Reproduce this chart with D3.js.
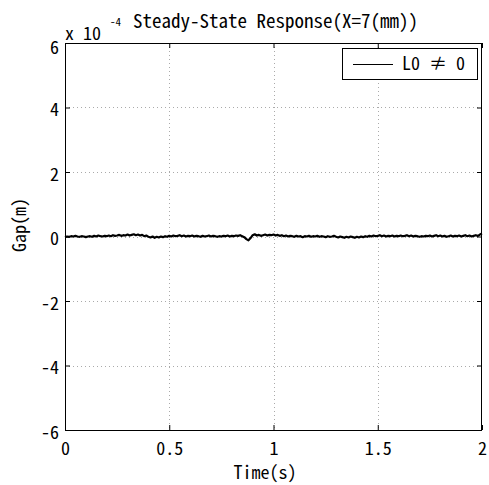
<!DOCTYPE html>
<html>
<head>
<meta charset="utf-8">
<script src="https://cdn.jsdelivr.net/npm/d3@7"></script>
<style>
  body { margin: 0; background: #fff; }
  svg text { font-family: "Noto Sans Mono CJK JP", "DejaVu Sans Mono", monospace; fill: #000; }
</style>
</head>
<body>
<div class="container"></div>
<script>
const w = 489;
const h = 485;
const margin = { top: 43, bottom: 55, left: 65, right: 7 };
const width = w - margin.left - margin.right;
const height = h - margin.top - margin.bottom;

// gap in units of 1e-4 m, one sample every 0.01 s from t = 0 to 2 s
const dt = 0.01;
const gap = [
  -0.02, 0.00, -0.01, 0.01, 0.00, 0.02, 0.00, -0.01, 0.01, 0.00,
  -0.02, 0.00, 0.01, -0.01, 0.02, 0.00, 0.03, 0.01, 0.00, 0.02,
  0.01, 0.03, 0.01, 0.04, 0.02, 0.03, 0.05, 0.02, 0.04, 0.03,
  0.06, 0.03, 0.05, 0.07, 0.04, 0.06, 0.03, 0.05, 0.01, 0.03,
  -0.01, -0.03, 0.00, -0.04, -0.01, -0.03, 0.00, -0.02, 0.01, -0.01,
  0.02, 0.00, 0.03, 0.01, 0.02, 0.04, 0.01, 0.03, 0.00, 0.02,
  0.01, 0.03, 0.00, 0.02, 0.01, -0.01, 0.02, 0.00, 0.01, 0.03,
  0.00, 0.02, 0.01, -0.01, 0.01, 0.00, 0.02, 0.01, 0.03, 0.00,
  0.02, 0.01, 0.03, 0.02, 0.04, 0.01, -0.02, -0.08, -0.12, -0.05,
  0.04, 0.07, 0.03, 0.05, 0.02, 0.04, 0.06, 0.03, 0.05, 0.04,
  0.06, 0.03, 0.05, 0.02, 0.04, 0.01, 0.03, 0.00, 0.02, 0.01,
  -0.01, 0.02, 0.00, 0.01, -0.02, 0.01, 0.00, 0.02, -0.01, 0.01,
  0.00, 0.02, -0.01, 0.01, 0.00, -0.02, 0.01, -0.01, 0.00, 0.02,
  -0.01, -0.03, 0.00, -0.02, -0.04, -0.01, -0.03, 0.00, -0.02, -0.04,
  -0.01, -0.03, 0.00, -0.02, 0.01, -0.01, 0.02, 0.00, 0.03, 0.01,
  0.02, 0.04, 0.01, 0.03, 0.00, 0.02, 0.01, 0.03, 0.00, 0.02,
  0.01, 0.03, 0.01, 0.02, 0.04, 0.01, 0.03, 0.00, 0.02, 0.01,
  -0.01, 0.01, 0.00, 0.02, 0.01, 0.03, 0.00, 0.02, 0.04, 0.01,
  0.03, 0.00, 0.02, -0.01, 0.01, 0.03, 0.00, 0.02, 0.01, 0.03,
  0.00, 0.02, 0.04, 0.01, 0.03, 0.00, 0.02, 0.04, 0.02, 0.06,
  0.09
];

const xTicks = [0, 0.5, 1, 1.5, 2];
const xTickLabels = ['0', '0.5', '1', '1.5', '2'];
const yTicks = [-6, -4, -2, 0, 2, 4, 6];
const yTickLabels = ['-6', '-4', '-2', '0', '2', '4', '6'];

const titleText = 'Steady-State Response(X=7(mm))';
const xLabel = 'Time(s)';
const yLabel = 'Gap(m)';
const legendLabel = 'L0 \u2260 0';

const svg = d3.select('.container').append('svg')
  .attr('width', w)
  .attr('height', h);

const chart = svg.append('g')
  .attr('transform', `translate(${margin.left}, ${margin.top})`);

const x = d3.scaleLinear().domain([0, 2]).range([0, width]);
const y = d3.scaleLinear().domain([-6, 6]).range([height, 0]);

// dotted grid
chart.append('g')
  .selectAll('line')
  .data(xTicks.slice(1, -1))
  .enter().append('line')
    .attr('x1', d => Math.round(x(d)) + 0.5)
    .attr('x2', d => Math.round(x(d)) + 0.5)
    .attr('y1', 0)
    .attr('y2', height)
    .attr('stroke', '#aaa')
    .attr('stroke-dasharray', '1,3');

chart.append('g')
  .selectAll('line')
  .data(yTicks.slice(1, -1))
  .enter().append('line')
    .attr('y1', d => Math.round(y(d)) + 0.5)
    .attr('y2', d => Math.round(y(d)) + 0.5)
    .attr('x1', 0)
    .attr('x2', width)
    .attr('stroke', '#aaa')
    .attr('stroke-dasharray', '1,3');

// trace
const line = d3.line()
  .x((d, i) => x(i * dt))
  .y(d => y(d));

chart.append('path')
  .datum(gap)
  .attr('d', line)
  .attr('fill', 'none')
  .attr('stroke', '#000')
  .attr('stroke-width', 2.2)
  .attr('stroke-linejoin', 'round');

// axes with inward ticks on all sides
const styleAxis = g => {
  g.select('.domain').remove();
  g.selectAll('.tick line').attr('stroke', '#000');
};

chart.append('g')
  .attr('transform', `translate(0, ${height})`)
  .call(d3.axisBottom(x).tickValues(xTicks).tickSizeInner(-5).tickSizeOuter(0)
    .tickPadding(12).tickFormat((d, i) => xTickLabels[i]))
  .call(styleAxis)
  .call(g => g.selectAll('text').attr('font-size', 18).attr('font-family', null));

chart.append('g')
  .call(d3.axisTop(x).tickValues(xTicks).tickSizeInner(-5).tickSizeOuter(0).tickFormat(''))
  .call(styleAxis);

chart.append('g')
  .call(d3.axisLeft(y).tickValues(yTicks).tickSizeInner(-5).tickSizeOuter(0)
    .tickPadding(6).tickFormat((d, i) => yTickLabels[i]))
  .call(styleAxis)
  .call(g => g.selectAll('text').attr('font-size', 18).attr('font-family', null)
    .attr('dy', d => d === 6 ? '0.6em' : '0.45em'));

chart.append('g')
  .attr('transform', `translate(${width}, 0)`)
  .call(d3.axisRight(y).tickValues(yTicks).tickSizeInner(-5).tickSizeOuter(0).tickFormat(''))
  .call(styleAxis);

// box
chart.append('rect')
  .attr('x', 0.5)
  .attr('y', 0.5)
  .attr('width', width - 1)
  .attr('height', height)
  .attr('fill', 'none')
  .attr('stroke', '#000');

// legend
const legend = chart.append('g')
  .attr('transform', `translate(${width - 140}, 5)`);

legend.append('rect')
  .attr('x', 0.5)
  .attr('y', 0.5)
  .attr('width', 135)
  .attr('height', 31)
  .attr('fill', '#fff')
  .attr('stroke', '#000');

legend.append('line')
  .attr('x1', 11)
  .attr('x2', 51)
  .attr('y1', 16.5)
  .attr('y2', 16.5)
  .attr('stroke', '#000');

legend.append('text')
  .attr('x', 60)
  .attr('y', 22)
  .attr('font-size', 18)
  .text(legendLabel);

// title, exponent, axis labels
svg.append('text')
  .attr('x', 133)
  .attr('y', 28)
  .attr('font-size', 19)
  .text(titleText);

svg.append('text')
  .attr('x', 65)
  .attr('y', 40)
  .attr('font-size', 18)
  .text('x 10');

svg.append('text')
  .attr('x', 110)
  .attr('y', 26)
  .attr('font-size', 11)
  .text('-4');

svg.append('text')
  .attr('x', 265)
  .attr('y', 479)
  .attr('font-size', 18)
  .attr('text-anchor', 'middle')
  .text(xLabel);

svg.append('text')
  .attr('transform', 'translate(26, 225) rotate(-90)')
  .attr('font-size', 18)
  .attr('text-anchor', 'middle')
  .text(yLabel);
</script>
</body>
</html>
